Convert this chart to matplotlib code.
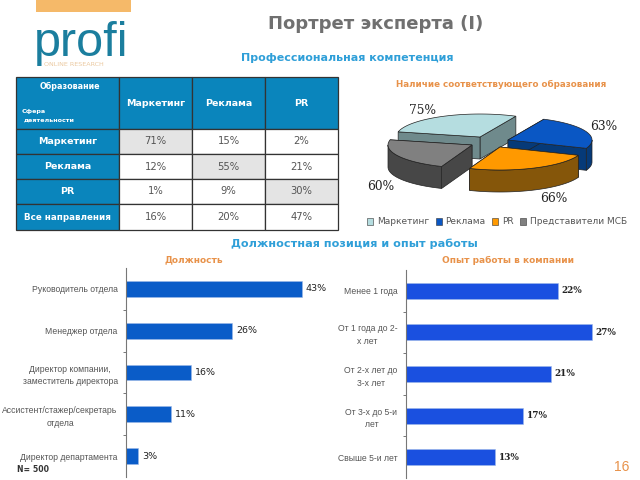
import numpy as np
import matplotlib
matplotlib.use('Agg')
import matplotlib.pyplot as plt

W, H = 640, 480

# table
col_labels = ['Маркетинг', 'Реклама', 'PR']
row_labels = ['Маркетинг', 'Реклама', 'PR', 'Все направления']
table_values = [['71%', '15%', '2%'],
                ['12%', '55%', '21%'],
                ['1%', '9%', '30%'],
                ['16%', '20%', '47%']]

# pie
pie_labels = ['Маркетинг', 'Реклама', 'PR', 'Представители МСБ']
pie_values = [75, 63, 66, 60]

# bars
position_labels = ['Руководитель отдела', 'Менеджер отдела',
                   'Директор компании,\nзаместитель директора',
                   'Ассистент/стажер/секретарь\nотдела', 'Директор департамента']
position_values = [43, 26, 16, 11, 3]
tenure_labels = ['Менее 1 года', 'От 1 года до 2-\nх лет', 'От 2-х лет до\n3-х лет',
                 'От 3-х до 5-и\nлет', 'Свыше 5-и лет']
tenure_values = [22, 27, 21, 17, 13]

TEAL = '#0A85BC'
TITLE_BLUE = '#2F9FD8'
ORANGE = '#E8924A'


def px_axes(fig, left, top, right, bottom):
    return fig.add_axes([left / W, 1 - bottom / H, (right - left) / W, (bottom - top) / H])


def draw_bars(fig, box, labels, values, xmax, color, label_font):
    ax = px_axes(fig, *box)
    y = np.arange(len(values))
    ax.barh(y, values, height=0.38, color=color, edgecolor='#9DB8E8', linewidth=0.4)
    ax.set_xlim(0, xmax)
    ax.set_ylim(len(values) - 0.5, -0.5)
    ax.set_yticks(y)
    ax.set_yticklabels(labels, fontsize=6.2, color='#555555', linespacing=1.5, multialignment='center',
                       family='Liberation Sans')
    ax.set_yticks(y[:-1] + 0.5, minor=True)
    ax.tick_params(axis='y', which='major', length=0, pad=6)
    ax.tick_params(axis='y', which='minor', length=2, width=0.7, color='#777777')
    ax.set_xticks([])
    for side in ['top', 'right', 'bottom']:
        ax.spines[side].set_visible(False)
    ax.spines['left'].set_color('#777777')
    ax.spines['left'].set_linewidth(0.8)
    ax.patch.set_alpha(0)
    for i, v in enumerate(values):
        ax.text(v + xmax * 0.017, i, '%d%%' % v, va='center', ha='left', clip_on=False, **label_font)


def arc(center, start, end, a, b, n=40):
    t = np.radians(np.linspace(start, end, n))
    return np.column_stack([center[0] + a * np.cos(t), center[1] - b * np.sin(t)])


def draw_slice(ax, apex, start, end, top, side, a=84, b=23, depth=22):
    edge = '#222222'
    rim = arc(apex, start, end, a, b)
    down = np.array([0, depth])
    for point in [rim[0], rim[-1]]:
        wall = np.array([apex, point, point + down, np.array(apex) + down])
        ax.fill(wall[:, 0], wall[:, 1], color=side, ec=edge, lw=0.5)
    s, e = max(start, 180), min(end, 360)
    if s < e:
        front = arc(apex, s, e, a, b)
        wall = np.vstack([front, (front + down)[::-1]])
        ax.fill(wall[:, 0], wall[:, 1], color=side, ec=edge, lw=0.5)
    face = np.vstack([apex, rim])
    ax.fill(face[:, 0], face[:, 1], color=top, ec=edge, lw=0.5)


fig = plt.figure(figsize=(W / 100, H / 100), dpi=100, facecolor='white')
plt.rcParams['font.family'] = ['DejaVu Sans']

ax = fig.add_axes([0, 0, 1, 1])
ax.set_xlim(0, W)
ax.set_ylim(H, 0)
ax.axis('off')

# logo
ax.fill([36, 131, 131, 36], [0, 0, 12, 12], color='#F5B969', lw=0)
ax.text(34, 56, 'profi', fontsize=35, color='#1B7E9E', family='Liberation Sans', va='baseline', ha='left')
ax.text(44, 64, 'ONLINE RESEARCH', fontsize=4.6, color='#EBC9A0', va='center', ha='left')

# titles
ax.text(376, 24, 'Портрет эксперта (I)', fontsize=13, fontweight='bold', color='#707070', ha='center', va='center')
ax.text(347, 58, 'Профессиональная компетенция', fontsize=8.0, fontweight='bold', color=TITLE_BLUE, ha='center', va='center')
ax.text(354, 244, 'Должностная позиция и опыт работы', fontsize=8.1, fontweight='bold', color=TITLE_BLUE, ha='center', va='center')
ax.text(501, 84, 'Наличие соответствующего образования', fontsize=6.3, fontweight='bold', color=ORANGE, ha='center', va='center')
ax.text(194, 260, 'Должность', fontsize=6.5, fontweight='bold', color=ORANGE, ha='center', va='center')
ax.text(508, 260, 'Опыт работы в компании', fontsize=6.5, fontweight='bold', color=ORANGE, ha='center', va='center')
ax.text(622, 467, '16', fontsize=10, color=ORANGE, ha='center', va='center', family='Liberation Sans')
ax.text(17, 470, 'N= 500', fontsize=5.6, fontweight='bold', color='#333333', ha='left', va='center')

# table
cell_text = [[''] + col_labels] + [[r] + v for r, v in zip(row_labels, table_values)]
col_px = [103, 73, 73, 73]
row_px = [52, 25, 25, 25, 26]
tax = px_axes(fig, 16, 77, 338, 230)
tax.axis('off')
tb = tax.table(cellText=cell_text, colWidths=[c / sum(col_px) for c in col_px],
               cellLoc='center', bbox=[0, 0, 1, 1])
tb.auto_set_font_size(False)
for (r, c), cell in tb.get_celld().items():
    cell.set_height(row_px[r] / sum(row_px))
    cell.set_linewidth(0.9)
    cell.set_edgecolor('#333333')
    if r == 0 or c == 0:
        cell.set_facecolor(TEAL)
        cell.get_text().set_color('white')
        cell.get_text().set_fontweight('bold')
        cell.get_text().set_fontsize(6.8 if (r, c) != (4, 0) else 6.3)
    else:
        cell.set_facecolor('#E4E4E4' if r == c else 'white')
        cell.get_text().set_color('#555555')
        cell.get_text().set_fontsize(7.2)
ax.set_zorder(2)
ax.patch.set_alpha(0)
ax.text(70, 86, 'Образование', fontsize=5.8, fontweight='bold', color='white', ha='center', va='center')
ax.text(22, 112, 'Сфера', fontsize=4.6, fontweight='bold', color='white', ha='left', va='center')
ax.text(24, 120, 'деятельности', fontsize=4.6, fontweight='bold', color='white', ha='left', va='center')

# pie: slices run clockwise from 167 degrees, sized from the values
tops = ['#B5DDE0', '#0A57C4', '#FF9900', '#808080']
sides = ['#6F8A8C', '#063A78', '#85560A', '#474747']
apexes = [(480, 137), (508, 140), (500, 147), (472, 145)]
sweeps = np.array(pie_values) / sum(pie_values) * 360
angle = 167
spans = []
for sweep in sweeps:
    spans.append((angle - sweep, angle))
    angle -= sweep
for i in [0, 1, 3, 2]:
    s, e = spans[i]
    if s < 0:
        s, e = s + 360, e + 360
    draw_slice(ax, apexes[i], s, e, tops[i], sides[i])

pie_text_pos = [(423, 110), (604, 126), (554, 199), (381, 186)]
for v, (x, y) in zip(pie_values, pie_text_pos):
    ax.text(x, y, '%d%%' % v, fontsize=8.8, color='#222222', ha='center', va='center', family='DejaVu Serif')

handles = [plt.Rectangle((0, 0), 1, 1, fc=t, ec='#333333', lw=0.4) for t in tops]
leg = ax.legend(handles, pie_labels, loc='center', bbox_to_anchor=(497 / W, 1 - 222 / H), ncol=4,
                frameon=False, fontsize=6.5, handlelength=0.7, handleheight=0.7, handletextpad=0.4,
                columnspacing=0.7, labelcolor='#555555', borderpad=0)

# bars
draw_bars(fig, (126, 268, 330, 477), position_labels, position_values, 204 / 4.09, '#0A5CC8',
          dict(fontsize=6.8, color='#222222'))
draw_bars(fig, (405.7, 270, 620, 478), tenure_labels, tenure_values, 214.3 / 6.9, '#1A50E0',
          dict(fontsize=6.4, color='#222222', family='DejaVu Serif', fontweight='bold'))

fig.savefig('out.png', dpi=100)
